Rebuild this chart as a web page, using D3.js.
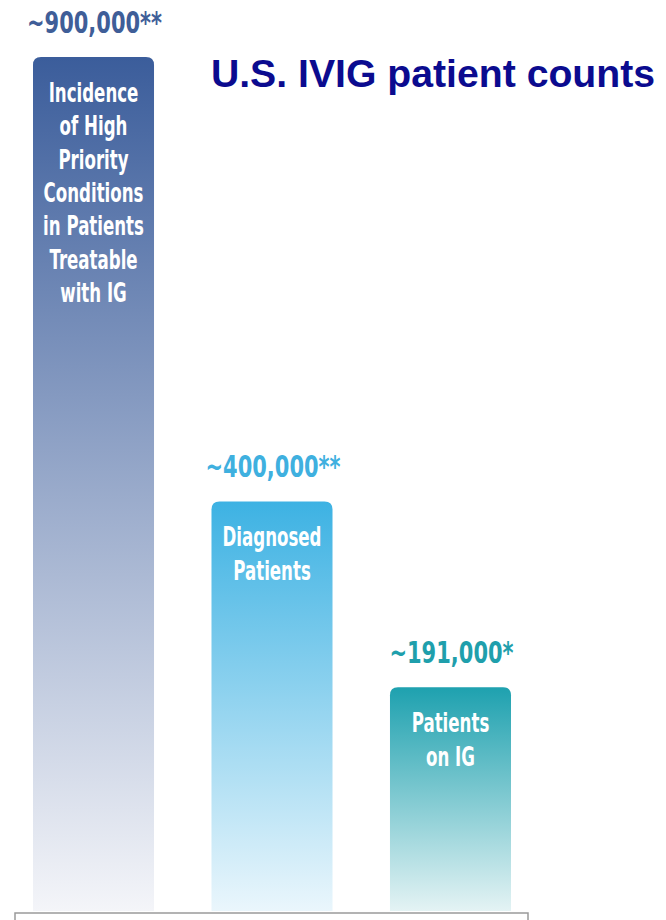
<!DOCTYPE html>
<html><head><meta charset="utf-8">
<script src="https://cdn.jsdelivr.net/npm/d3@7/dist/d3.min.js"></script>
<style>html,body{margin:0;padding:0;background:#fff;}</style>
</head><body><svg id="c" width="666" height="920"></svg>
<script>
const categories = ["Incidence of High Priority Conditions in Patients Treatable with IG", "Diagnosed Patients", "Patients on IG"];
const innerLines = [["Incidence","of High","Priority","Conditions","in Patients","Treatable","with IG"],["Diagnosed","Patients"],["Patients","on IG"]];
const values = [900000, 400000, 191000];
const valueLabels = ["~900,000**", "~400,000**", "~191,000*"];
const title = "U.S. IVIG patient counts";

const topColors = ["#3b5d9b", "#3db2e3", "#1ea1af"];
const botColors = ["#f4f5f9", "#eaf6fc", "#e4f3f4"];
const labelColors = ["#3f5e98", "#3fb0df", "#1f9fac"];

const svg = d3.select("#c");
const defs = svg.append("defs");
const baseY = 911;
const x = d3.scaleBand().domain(d3.range(values.length)).range([33, 511]).paddingInner(0.322).paddingOuter(0);
const y = d3.scaleLinear().domain([-60700, 900000]).range([baseY, 57]);

categories.forEach((c, i) => {
  const g = defs.append("linearGradient").attr("id", "g" + i).attr("x1", 0).attr("y1", 0).attr("x2", 0).attr("y2", 1);
  g.append("stop").attr("offset", "0%").attr("stop-color", topColors[i]);
  g.append("stop").attr("offset", "100%").attr("stop-color", botColors[i]);
});

const r = 8;
function barPath(x0, y0, w, y1) {
  return `M${x0},${y1}V${y0 + r}Q${x0},${y0} ${x0 + r},${y0}H${x0 + w - r}Q${x0 + w},${y0} ${x0 + w},${y0 + r}V${y1}Z`;
}

const font = "'DejaVu Sans',sans-serif";

values.forEach((v, i) => {
  const x0 = x(i), w = x.bandwidth(), y0 = y(v), cx = x0 + w / 2;
  svg.append("path").attr("d", barPath(x0, y0, w, baseY)).attr("fill", `url(#g${i})`);
  svg.append("text").attr("transform", `translate(${cx + 1},${y0 - 24}) scale(0.7,1)`)
    .attr("text-anchor", "middle").attr("font-family", font).attr("font-weight", "bold")
    .attr("font-size", 30).attr("fill", labelColors[i]).text(valueLabels[i]);
  innerLines[i].forEach((ln, k) => {
    svg.append("text").attr("transform", `translate(${cx},${y0 + 45 + k * 33.3}) scale(0.64,1)`)
      .attr("text-anchor", "middle").attr("font-family", font).attr("font-weight", "bold")
      .attr("font-size", 26).attr("fill", "#ffffff").text(ln);
  });
});

// baseline box
svg.append("rect").attr("x", 15).attr("y", 913).attr("width", 513).attr("height", 30)
  .attr("fill", "#fff").attr("stroke", "#9a9a9a").attr("stroke-width", 1.5);

svg.append("text").attr("x", 433).attr("y", 87).attr("text-anchor", "middle")
  .attr("font-family", "'Liberation Sans',Arial,sans-serif").attr("font-weight", "bold")
  .attr("font-size", 39.2).attr("fill", "#0b0b8f").text(title);
</script></body></html>
